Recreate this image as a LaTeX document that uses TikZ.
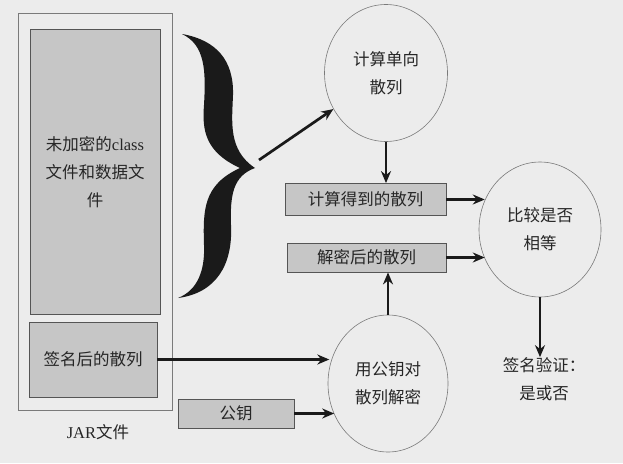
\documentclass[tikz,border=0pt]{standalone}
\usepackage{fontspec}
\setmainfont{Liberation Serif}
\newfontfamily\cjk{Noto Sans CJK SC}
\usetikzlibrary{shapes.geometric,arrows.meta}
\definecolor{bgc}{HTML}{ECECEC}
\definecolor{boxc}{HTML}{C6C6C6}
\definecolor{edgec}{HTML}{555555}
\definecolor{circc}{HTML}{7A7A7A}
\definecolor{txtc}{HTML}{262626}
\definecolor{inkc}{HTML}{1A1A1A}
\tikzset{
  lbl/.style={font=\fontsize{16.5}{28}\selectfont, text=txtc, align=center, inner sep=0pt},
  greybox/.style={lbl, draw=edgec, line width=0.8pt, fill=boxc},
  jarbox/.style={draw=circc, line width=0.8pt},
  bubble/.style={lbl, ellipse, draw=circc, line width=0.6pt, inner sep=0pt},
  flow/.style={draw=inkc, line width=2.7pt, -{Stealth[length=12pt,width=10pt]}},
}
\begin{document}
\begin{tikzpicture}[x=1pt,y=-1pt]
\fill[bgc] (0,0) rectangle (623,463);
\useasboundingbox (0,0) rectangle (623,463);
% JAR file
\node[jarbox, minimum width=154pt, minimum height=397pt] (jar) at (95,211.5) {};
\node[greybox, minimum width=130pt, minimum height=285pt] (data) at (95,172)
  {{\cjk 未加密的}class\\{\cjk 文件和数据文}\\{\cjk 件}};
\node[greybox, minimum width=128pt, minimum height=75pt] (sig) at (93,359.5) {\cjk 签名后的散列};
\node[lbl] (jarlbl) at (98,432) {JAR{\cjk 文件}};
\node[greybox, minimum width=116pt, minimum height=29pt] (key) at (236,413.5) {\cjk 公钥};
% brace
\fill[inkc] (182,34) .. controls (216,40) and (234,60) .. (233,95)
  .. controls (232,122) and (228,150) .. (255,168)
  .. controls (233,176) and (230,195) .. (231,225)
  .. controls (233,265) and (216,293) .. (178,298)
  .. controls (198,290) and (205,270) .. (204,245)
  .. controls (203,210) and (203,185) .. (240,168)
  .. controls (205,152) and (202,130) .. (204,105)
  .. controls (206,70) and (205,45) .. (182,34) -- cycle;
\coordinate (tip) at (259,160);
% circles
\node[bubble, minimum width=123pt, minimum height=137pt] (c1) at (386,73) {\cjk 计算单向\\\cjk 散列};
\node[bubble, minimum width=120pt, minimum height=137pt] (c2) at (388,383.5) {\cjk 用公钥对\\\cjk 散列解密};
\node[bubble, minimum width=122pt, minimum height=135pt] (c3) at (540,229.5) {\cjk 比较是否\\\cjk 相等};
% hash boxes
\node[greybox, minimum width=161pt, minimum height=32pt] (b1) at (365.5,199.5) {\cjk 计算得到的散列};
\node[greybox, minimum width=159pt, minimum height=29pt] (b2) at (366.5,257.5) {\cjk 解密后的散列};
\node[lbl] (res) at (544,379) {\cjk 签名验证：\\\cjk 是或否};
% connectors
\draw[flow] (tip) -- (c1);
\draw[flow] (c1.south) -- (c1.south |- b1.north);
\draw[flow] (b1.east) -- (b1.east -| c3.152);
\draw[flow] (b2.east) -- (b2.east -| c3.208);
\draw[flow] (c2.north) -- (c2.north |- b2.south);
\draw[flow] (c3.south) -- (c3.south |- res.north);
\draw[flow] (sig.east) -- (sig.east -| c2.165);
\draw[flow] (key.east) -- (key.east -| c2.210);
\end{tikzpicture}
\end{document}
